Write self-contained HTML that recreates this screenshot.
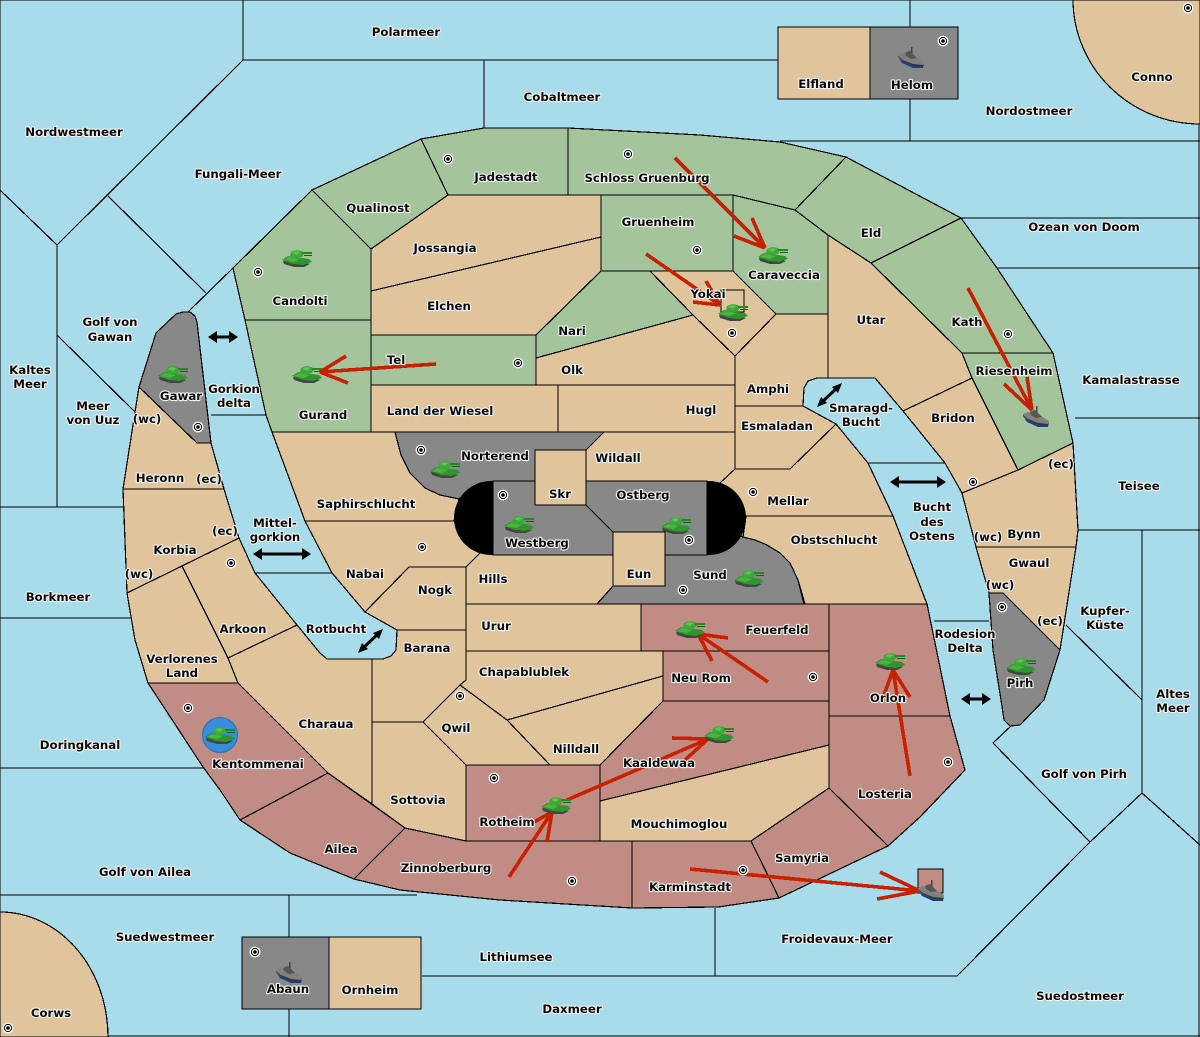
<!DOCTYPE html>
<html><head><meta charset="utf-8"><style>
html,body{margin:0;padding:0;background:#a8dcea}
svg{display:block}
.c{shape-rendering:crispEdges}
.c polygon,.c path,.c rect,.c line{stroke:#000;stroke-width:1.2}
.L{fill:#e0c49c}.G{fill:#a4c49c}.R{fill:#c08c84}.Y{fill:#888}
.a{shape-rendering:crispEdges}
.a line{stroke:#c82000;stroke-width:3.6}
.d line{stroke:#000;stroke-width:3}
.t text{font-family:"DejaVu Sans",sans-serif;font-weight:bold;font-size:11.75px;text-anchor:middle;dominant-baseline:central;fill:#0a0a0a;stroke:#f2f2f0;stroke-width:2.2px;paint-order:stroke;stroke-linejoin:round}
</style></head><body>
<svg width="1200" height="1037" viewBox="0 0 1200 1037" xmlns="http://www.w3.org/2000/svg">
<defs>
<g id="k">
<polygon points="-14,3 -13,6 -3,9 7,9 13,6 5,4" fill="#444"/>
<polygon points="-15,2 -9,-2 12,1 15,4 6,7 -4,6" fill="#2f962f"/>
<polygon points="-13,2 -8,-1 3,1 -3,4" fill="#49b63f"/>
<polygon points="-7,-2 -6,-6 -1,-8 5,-7 7,-4 5,-1 -3,0" fill="#3fa83a"/>
<polygon points="-5,-5 -1,-7 3,-6 0,-3" fill="#5cc850"/>
<rect x="5" y="-6" width="10" height="2" fill="#1f8a1f"/>
<polygon points="7,-3 15,-3 15,-2 7,-2" fill="#14601a"/>
</g>
<g id="s">
<polygon points="-13,-1 -9,5 2,10 12,10 13,6 -1,3" fill="#1d3c8c"/>
<polygon points="-13,-3 -8,-5 2,-3 13,4 12,8 2,8 -8,3 -13,0" fill="#808080"/>
<polygon points="-13,-1 -8,3 2,8 12,8 12,7 2,6 -8,2 -13,-2" fill="#333"/>
<polygon points="-6,-5 -2,-7 1,-6 2,-4 6,0 0,1 -5,-2" fill="#555"/>
<rect x="0" y="-11" width="1.5" height="6" fill="#444"/>
</g>
<g id="m"><circle r="5.4" fill="#fff"/><circle r="3.6" fill="none" stroke="#000" stroke-width="1"/><circle r="1.8" fill="#000"/></g>
</defs>
<rect width="1200" height="1037" fill="#a8dcea"/>
<g class="c" fill="none">
<path d="M243 0V60H778M243 60L57 245M0 190L57 245V507M0 507H125M108 196L206 293M233 268L188 312M57 335L135 412M0 618H132M0 768H203M0 895H417M289 895V1037M422 976H957L1090 842L993 743L1011 726M715 908V976M484 60V128M910 0V141M780 141H1200M958 218H1200M997 268H1200M1075 418H1200M1078 530H1200M1142 530V793L1090 842M1142 793L1200 845M1066 625L1142 700M0 1036H1200M1199 0V1037M0 0H1200M0 0V1037M211 415H267M255 573H332M868 463H945M934 621H989"/>
<path class="L" d="M1073 0A127 125 0 0 0 1200 124V0Z"/>
<path class="L" d="M0 912A108 125 0 0 1 108 1037H0Z"/>
<rect class="L" x="778" y="27" width="92" height="72"/>
<rect class="Y" x="870" y="27" width="88" height="72"/>
<rect class="Y" x="242" y="937" width="87" height="72"/>
<rect class="L" x="329" y="937" width="92" height="72"/>
<polygon class="G" points="233,268 312,190 371,249 371,320 245,320"/>
<polygon class="G" points="312,190 421,139 448,195 371,249"/>
<polygon class="G" points="421,139 484,128 568,128 568,195 448,195"/>
<polygon class="G" points="568,128 700,135 780,142 846,157 795,210 733,195 568,195"/>
<polygon class="G" points="846,157 961,218 871,263 828,235 795,210"/>
<polygon class="G" points="961,218 997,268 1053,353 962,353 871,263"/>
<polygon class="G" points="962,353 1053,353 1073,443 1018,470 972,378"/>
<polygon class="G" points="245,320 371,320 371,432 272,432 266,415"/>
<polygon class="G" points="371,335 536,335 536,385 371,385"/>
<polygon class="G" points="601,195 733,195 733,271 601,271"/>
<polygon class="G" points="733,195 795,210 828,235 828,314 776,314 733,271"/>
<polygon class="G" points="536,335 601,271 650,271 693,315 536,358"/>
<polygon class="L" points="371,249 448,195 601,195 601,237 371,291"/>
<polygon class="L" points="371,291 601,237 601,271 536,335 371,335"/>
<polygon class="L" points="650,271 733,271 776,314 735,356 693,315"/>
<rect class="L" x="721" y="290" width="23" height="22"/>
<polygon class="L" points="536,358 693,315 735,356 735,385 536,385"/>
<polygon class="L" points="371,385 558,385 558,432 371,432"/>
<polygon class="L" points="558,385 735,385 735,432 558,432"/>
<polygon class="L" points="735,356 776,314 828,314 828,378 817,378 808,381 804,388 803,406 735,406"/>
<polygon class="L" points="828,235 871,263 962,353 972,378 903,411 875,378 828,378"/>
<polygon class="L" points="903,411 972,378 1018,470 962,493 945,463"/>
<polygon class="L" points="735,406 803,406 836,424 790,469 735,469"/>
<polygon class="L" points="604,432 735,432 735,469 720,483 586,483 586,450"/>
<polygon class="L" points="720,483 735,469 790,469 836,424 868,463 893,516 746,516 730,500"/>
<polygon class="L" points="746,516 893,516 927,604 805,604 798,580 790,563 780,553 767,545 755,540 743,537"/>
<polygon class="Y" points="395,432 604,432 586,450 535,450 535,483 480,483 459,499 440,495 425,488 410,473 401,455"/>
<polygon class="Y" points="597,604 613,586 665,586 665,555 720,530 743,537 755,540 767,545 780,553 790,563 798,580 804,604"/>
<polygon class="L" points="272,432 395,432 401,455 410,473 425,488 440,495 459,499 454,521 305,521"/>
<polygon class="L" points="305,521 454,521 480,553 466,567 409,567 365,612 332,573"/>
<polygon class="L" points="365,612 409,567 466,567 466,630 397,630"/>
<polygon class="L" points="466,604 466,567 480,553 613,555 613,586 597,604"/>
<polygon class="L" points="397,630 466,630 466,680 423,722 372,722 372,659 383,659 391,656 396,650"/>
<polygon class="L" points="466,604 641,604 641,651 466,651"/>
<polygon class="R" points="641,604 829,604 829,651 641,651"/>
<polygon class="R" points="663,651 829,651 829,701 663,701"/>
<polygon class="L" points="466,630 466,651 663,651 663,676 507,720 500,715 460,685 466,680"/>
<polygon class="L" points="507,720 663,676 663,701 600,765 550,765"/>
<polygon class="L" points="423,722 460,685 507,720 550,765 466,765"/>
<polygon class="L" points="372,722 423,722 466,765 466,841 405,828 372,804"/>
<polygon class="R" points="466,765 600,765 600,841 466,841"/>
<polygon class="R" points="663,701 829,701 829,745 600,801 600,765"/>
<polygon class="L" points="600,801 829,745 829,788 751,841 600,841"/>
<polygon class="R" points="829,604 927,604 950,716 829,716"/>
<polygon class="R" points="829,716 950,716 965,770 920,817 888,846 829,788"/>
<polygon class="R" points="751,841 829,788 888,846 779,898"/>
<polygon class="R" points="632,841 751,841 779,898 718,907 632,908"/>
<polygon class="R" points="405,828 466,841 632,841 632,908 500,900 400,890 354,879"/>
<polygon class="L" points="228,658 297,625 320,653 327,659 372,659 372,804 328,773 238,683"/>
<polygon class="R" points="148,683 238,683 328,773 240,820 220,790 203,767"/>
<polygon class="R" points="240,820 328,773 405,828 354,879 290,853"/>
<polygon class="L" points="135,412 139,387 197,443 211,443 224,489 123,489"/>
<polygon class="L" points="123,489 224,489 239,538 127,593"/>
<polygon class="L" points="182,566 239,538 255,573 297,625 228,658"/>
<polygon class="L" points="127,593 182,566 228,658 238,683 148,683 135,640"/>
<polygon class="Y" points="156,333 176,314 183,312 190,312 195,316 197,322 211,443 197,443 139,387"/>
<polygon class="L" points="962,493 1018,470 1073,443 1078,530 1076,547 976,547"/>
<polygon class="L" points="976,547 1076,547 1060,650 1003,593 989,593"/>
<polygon class="Y" points="989,593 1003,593 1060,650 1044,700 1020,725 1010,726 1004,720 1001,700 993,650"/>
</g>
<rect x="454" y="481" width="292" height="74" rx="37" fill="#000"/>
<g class="c">
<polygon fill="#888" stroke="#000" stroke-width="1.2" points="493,481 535,481 535,505 586,505 613,532 613,555 493,555"/>
<polygon fill="#888" stroke="#000" stroke-width="1.2" points="586,481 707,481 707,555 665,555 665,532 613,532 586,505"/>
<rect class="L" x="535" y="450" width="51" height="55" stroke="#000" stroke-width="1.2"/>
<rect class="L" x="613" y="532" width="52" height="54" stroke="#000" stroke-width="1.2"/>
<rect class="R" x="918" y="869" width="25" height="24" stroke="#000" stroke-width="1.2"/>
</g>
<circle cx="220" cy="735" r="17.5" fill="#3a8cdc" stroke="#2a70b0" stroke-width="1"/>
<g class="a">
<line x1="436" y1="364" x2="320" y2="372"/><line x1="346" y1="356" x2="320" y2="372"/><line x1="348" y1="383" x2="320" y2="372"/>
<line x1="675" y1="158" x2="765" y2="248"/><line x1="752" y1="218" x2="765" y2="248"/><line x1="734" y1="236" x2="765" y2="248"/>
<line x1="646" y1="254" x2="720" y2="305"/><line x1="706" y1="281" x2="720" y2="305"/><line x1="693" y1="302" x2="720" y2="305"/>
<line x1="968" y1="288" x2="1032" y2="410"/><line x1="1004" y1="384" x2="1032" y2="410"/><line x1="1027" y1="377" x2="1032" y2="410"/>
<line x1="768" y1="682" x2="698" y2="634"/><line x1="728" y1="638" x2="698" y2="634"/><line x1="712" y1="661" x2="698" y2="634"/>
<line x1="910" y1="776" x2="893" y2="670"/><line x1="884" y1="695" x2="893" y2="670"/><line x1="910" y1="697" x2="893" y2="670"/>
<line x1="567" y1="800" x2="708" y2="739"/><line x1="672" y1="738" x2="708" y2="739"/><line x1="685" y1="760" x2="708" y2="739"/>
<line x1="509" y1="877" x2="552" y2="812"/><line x1="547" y1="842" x2="552" y2="812"/><line x1="527" y1="826" x2="552" y2="812"/>
<line x1="690" y1="869" x2="920" y2="891"/><line x1="880" y1="872" x2="920" y2="891"/><line x1="877" y1="899" x2="920" y2="891"/>
</g>
<g class="d">
<line x1="214" y1="337" x2="232" y2="337"/><polygon points="208,337 217,331 217,343"/><polygon points="238,337 229,331 229,343"/>
<line x1="259" y1="554" x2="305" y2="554"/><polygon points="253,554 262,548 262,560"/><polygon points="311,554 302,548 302,560"/>
<line x1="896" y1="482" x2="940" y2="482"/><polygon points="890,482 899,476 899,488"/><polygon points="946,482 937,476 937,488"/>
<line x1="967" y1="699" x2="985" y2="699"/><polygon points="961,699 970,693 970,705"/><polygon points="991,699 982,693 982,705"/>
<line x1="362" y1="649" x2="379" y2="633"/><polygon points="358,653 362,643 368,649"/><polygon points="383,629 379,639 373,633"/>
<line x1="821" y1="403" x2="838" y2="387"/><polygon points="817,407 821,397 827,403"/><polygon points="842,383 838,393 832,387"/>
</g>
<use href="#k" x="297" y="258"/><use href="#k" x="307" y="374"/><use href="#k" x="173" y="374"/><use href="#k" x="445" y="469"/><use href="#k" x="519" y="524"/><use href="#k" x="676" y="525"/><use href="#k" x="749" y="578"/><use href="#k" x="733" y="312"/><use href="#k" x="773" y="255"/><use href="#k" x="690" y="629"/><use href="#k" x="890" y="661"/><use href="#k" x="1021" y="666"/><use href="#k" x="220" y="735"/><use href="#k" x="719" y="734"/><use href="#k" x="556" y="805"/>
<use href="#s" x="911" y="58"/><use href="#s" x="1036" y="417"/><use href="#s" x="931" y="891"/><use href="#s" x="289" y="973"/>
<use href="#m" x="448" y="159"/><use href="#m" x="628" y="154"/><use href="#m" x="697" y="250"/><use href="#m" x="258" y="272"/><use href="#m" x="518" y="363"/><use href="#m" x="732" y="333"/><use href="#m" x="1008" y="334"/><use href="#m" x="973" y="482"/><use href="#m" x="421" y="450"/><use href="#m" x="503" y="495"/><use href="#m" x="753" y="492"/><use href="#m" x="689" y="540"/><use href="#m" x="422" y="547"/><use href="#m" x="683" y="590"/><use href="#m" x="231" y="563"/><use href="#m" x="198" y="427"/><use href="#m" x="1002" y="607"/><use href="#m" x="460" y="696"/><use href="#m" x="813" y="677"/><use href="#m" x="188" y="708"/><use href="#m" x="948" y="762"/><use href="#m" x="494" y="778"/><use href="#m" x="743" y="870"/><use href="#m" x="572" y="881"/><use href="#m" x="255" y="952"/><use href="#m" x="8" y="1028"/><use href="#m" x="943" y="41"/><use href="#m" x="1188" y="8"/>
<g class="t">
<text x="406" y="32">Polarmeer</text><text x="562" y="97">Cobaltmeer</text><text x="821" y="84">Elfland</text><text x="912" y="85">Helom</text><text x="1152" y="77">Conno</text><text x="1029" y="111">Nordostmeer</text><text x="74" y="132">Nordwestmeer</text><text x="238" y="174">Fungali-Meer</text><text x="506" y="177">Jadestadt</text><text x="647" y="178">Schloss Gruenburg</text><text x="378" y="208">Qualinost</text><text x="445" y="248">Jossangia</text><text x="658" y="222">Gruenheim</text><text x="871" y="233">Eld</text><text x="1084" y="227">Ozean von Doom</text><text x="784" y="275">Caraveccia</text><text x="300" y="301">Candolti</text><text x="708" y="294">Yokai</text><text x="449" y="306">Elchen</text><text x="871" y="320">Utar</text><text x="967" y="322">Kath</text><text x="572" y="331">Nari</text>
<text x="110" y="322">Golf von</text><text x="110" y="337">Gawan</text><text x="396" y="360">Tel</text><text x="572" y="370">Olk</text><text x="30" y="370">Kaltes</text><text x="30" y="384">Meer</text><text x="1014" y="371">Riesenheim</text><text x="1131" y="380">Kamalastrasse</text><text x="768" y="389">Amphi</text><text x="234" y="389">Gorkion</text><text x="234" y="403">delta</text><text x="181" y="396">Gawar</text><text x="93" y="406">Meer</text><text x="93" y="420">von Uuz</text><text x="440" y="411">Land der Wiesel</text><text x="701" y="410">Hugl</text><text x="323" y="415">Gurand</text><text x="861" y="408">Smaragd-</text><text x="861" y="422">Bucht</text><text x="953" y="418">Bridon</text><text x="147" y="419">(wc)</text><text x="777" y="426">Esmaladan</text>
<text x="495" y="456">Norterend</text><text x="618" y="458">Wildall</text><text x="1061" y="464">(ec)</text><text x="160" y="478">Heronn</text><text x="209" y="479">(ec)</text><text x="1139" y="486">Teisee</text><text x="560" y="494">Skr</text><text x="643" y="495">Ostberg</text><text x="788" y="501">Mellar</text><text x="366" y="504">Saphirschlucht</text><text x="932" y="507">Bucht</text><text x="932" y="522">des</text><text x="932" y="536">Ostens</text><text x="275" y="523">Mittel-</text><text x="275" y="537">gorkion</text><text x="225" y="531">(ec)</text><text x="988" y="537">(wc)</text><text x="1024" y="534">Bynn</text><text x="834" y="540">Obstschlucht</text><text x="537" y="543">Westberg</text><text x="175" y="550">Korbia</text><text x="1029" y="563">Gwaul</text><text x="639" y="574">Eun</text><text x="365" y="574">Nabai</text><text x="710" y="575">Sund</text><text x="139" y="574">(wc)</text><text x="493" y="579">Hills</text><text x="1000" y="585">(wc)</text><text x="435" y="590">Nogk</text><text x="58" y="597">Borkmeer</text><text x="1105" y="611">Kupfer-</text><text x="1105" y="625">Küste</text><text x="1050" y="621">(ec)</text>
<text x="496" y="626">Urur</text><text x="243" y="629">Arkoon</text><text x="777" y="630">Feuerfeld</text><text x="336" y="629">Rotbucht</text><text x="965" y="634">Rodesion</text><text x="965" y="648">Delta</text><text x="427" y="648">Barana</text><text x="182" y="659">Verlorenes</text><text x="182" y="673">Land</text><text x="524" y="672">Chapablublek</text><text x="701" y="678">Neu Rom</text><text x="888" y="698">Orlon</text><text x="1020" y="683">Pirh</text><text x="1173" y="694">Altes</text><text x="1173" y="708">Meer</text><text x="326" y="724">Charaua</text><text x="456" y="728">Qwil</text><text x="80" y="745">Doringkanal</text><text x="576" y="749">Nilldall</text><text x="659" y="763">Kaaldewaa</text><text x="258" y="764">Kentommenai</text><text x="1084" y="774">Golf von Pirh</text><text x="885" y="794">Losteria</text><text x="418" y="800">Sottovia</text><text x="507" y="822">Rotheim</text><text x="679" y="824">Mouchimoglou</text><text x="341" y="849">Ailea</text><text x="802" y="858">Samyria</text><text x="446" y="868">Zinnoberburg</text><text x="145" y="872">Golf von Ailea</text><text x="690" y="887">Karminstadt</text><text x="165" y="937">Suedwestmeer</text><text x="837" y="939">Froidevaux-Meer</text><text x="516" y="957">Lithiumsee</text><text x="288" y="989">Abaun</text><text x="370" y="990">Ornheim</text><text x="1080" y="996">Suedostmeer</text><text x="572" y="1009">Daxmeer</text><text x="51" y="1013">Corws</text>
</g>
</svg>
</body></html>
